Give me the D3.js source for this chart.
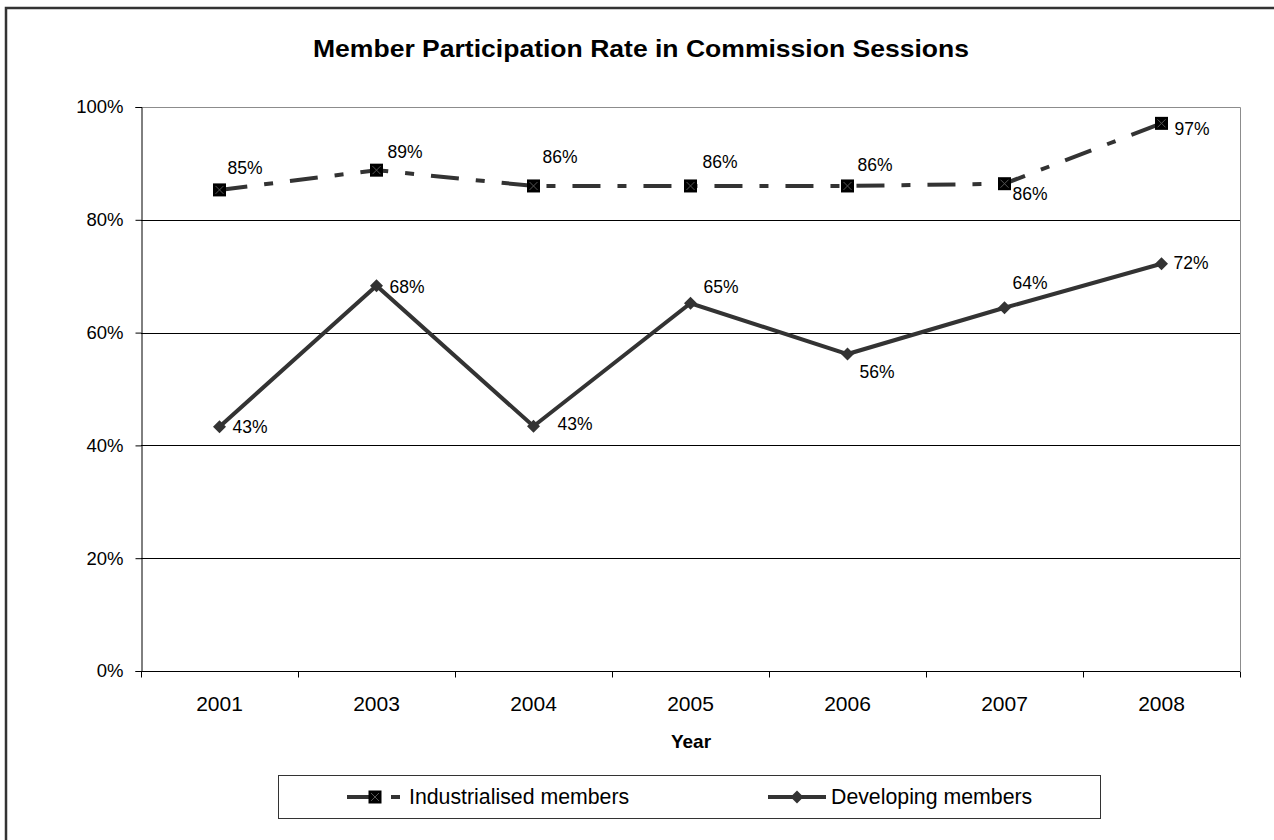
<!DOCTYPE html>
<html>
<head>
<meta charset="utf-8">
<script src="https://cdn.jsdelivr.net/npm/d3@7"></script>
<style>
  html, body { margin: 0; padding: 0; background: #fff; }
  svg { display: block; font-family: "Liberation Sans", Arial, sans-serif; }
</style>
</head>
<body>
<svg id="chart" width="1274" height="840"></svg>
<script>
// ---- data ----
const categories = ["2001", "2003", "2004", "2005", "2006", "2007", "2008"];
const industrialised = [0.853, 0.888, 0.860, 0.860, 0.860, 0.864, 0.971];
const developing = [0.433, 0.683, 0.434, 0.652, 0.562, 0.644, 0.722];
const industrialisedLabels = ["85%", "89%", "86%", "86%", "86%", "86%", "97%"];
const developingLabels = ["43%", "68%", "43%", "65%", "56%", "64%", "72%"];
const yTicks = [0, 0.2, 0.4, 0.6, 0.8, 1.0];
const seriesNames = ["Industrialised members", "Developing members"];
const titleText = "Member Participation Rate in Commission Sessions";
const xTitle = "Year";

(function () {
// ---- layout (label offsets relative to marker: [dx to label start, dy to label centre]) ----
const indOffsets = [[8, -22], [11, -18], [9, -29], [12, -24], [10, -21], [8, 10], [13, 6]];
const devOffsets = [[13, 0], [13, 1], [24, -2], [13, -16], [12, 18], [8, -25], [12, -1]];

const svg = d3.select("#chart");
const pL = 141, pR = 1240, pT = 107, pB = 671;
const ink = "#333";

// outer frame
svg.append("rect").attr("x", 6).attr("y", 8).attr("width", 1290).attr("height", 860)
  .attr("fill", "none").attr("stroke", ink).attr("stroke-width", 2.5);

const x = d3.scaleBand().domain(categories).range([pL, pR]).padding(0);
const y = d3.scaleLinear().domain([0, 1]).range([pB, pT]);

// title
svg.append("text").attr("x", 641).attr("y", 57).attr("text-anchor", "middle")
  .attr("font-weight", "bold").attr("font-size", 24)
  .attr("textLength", 656).attr("lengthAdjust", "spacingAndGlyphs")
  .attr("fill", "#000").text(titleText);

// plot border (grey, top & right)
svg.append("path")
  .attr("d", `M${pL},${pT + 0.5}H${pR + 0.5}V${pB}`)
  .attr("fill", "none").attr("stroke", "#8c8c8c").attr("stroke-width", 1);

// gridlines
svg.append("g").selectAll("line").data(yTicks.filter(t => t > 0 && t < 1)).join("line")
  .attr("x1", pL).attr("x2", pR)
  .attr("y1", d => Math.round(y(d)) + 0.5).attr("y2", d => Math.round(y(d)) + 0.5)
  .attr("stroke", "#000").attr("stroke-width", 1);

// y axis
const yAxis = svg.append("g").attr("transform", `translate(${pL + 0.5},0)`)
  .call(d3.axisLeft(y).tickValues(yTicks).tickFormat(d3.format(".0%")).tickSize(6).tickPadding(12));
yAxis.select(".domain").attr("stroke", "#000");
yAxis.selectAll(".tick line").attr("stroke", "#000");
yAxis.selectAll("text").attr("font-size", 18.5).attr("fill", "#000")
  .attr("font-family", "Liberation Sans, Arial, sans-serif");

// x axis (ticks at band boundaries)
const xAxisG = svg.append("g").attr("transform", `translate(0,${pB + 0.5})`);
xAxisG.append("line").attr("x1", pL).attr("x2", pR).attr("stroke", "#000");
const bounds = categories.map(c => x(c)).concat([x(categories[categories.length - 1]) + x.bandwidth()]);
xAxisG.selectAll("line.tk").data(bounds).join("line").attr("class", "tk")
  .attr("x1", d => Math.round(d) + 0.5).attr("x2", d => Math.round(d) + 0.5)
  .attr("y1", 0).attr("y2", 6).attr("stroke", "#000");
xAxisG.selectAll("text").data(categories).join("text")
  .attr("x", d => x(d) + x.bandwidth() / 2).attr("y", 39)
  .attr("text-anchor", "middle").attr("font-size", 21).attr("fill", "#000").text(d => d);

svg.append("text").attr("x", 691).attr("y", 748).attr("text-anchor", "middle")
  .attr("font-weight", "bold").attr("font-size", 19).attr("fill", "#000").text(xTitle);

const cx = (d, i) => x(categories[i]) + x.bandwidth() / 2;
const line = d3.line().x(cx).y(d => y(d));

const dash = "28,17,9,17";

// series lines
svg.append("path").datum(industrialised).attr("d", line)
  .attr("fill", "none").attr("stroke", ink).attr("stroke-width", 4).attr("stroke-dasharray", dash);
svg.append("path").datum(developing).attr("d", line)
  .attr("fill", "none").attr("stroke", ink).attr("stroke-width", 4).attr("stroke-linejoin", "miter");

function squareMarker(g, px, py) {
  const s = 13;
  g.append("rect").attr("x", px - s / 2).attr("y", py - s / 2).attr("width", s).attr("height", s).attr("fill", "#000");
  g.append("path").attr("d", `M${px - 4},${py - 4}L${px + 4},${py + 4}M${px + 4},${py - 4}L${px - 4},${py + 4}`)
    .attr("stroke", "#555").attr("stroke-width", 1);
}
function diamondMarker(g, px, py) {
  const r = 6.5;
  g.append("path").attr("d", `M${px},${py - r}L${px + r},${py}L${px},${py + r}L${px - r},${py}Z`).attr("fill", ink);
}

const mk = svg.append("g");
industrialised.forEach((v, i) => squareMarker(mk, cx(v, i), y(v)));
developing.forEach((v, i) => diamondMarker(mk, cx(v, i), y(v)));

// data labels
const lab = svg.append("g").attr("font-size", 17.5).attr("fill", "#000");
lab.selectAll("text.ind").data(industrialised).join("text").attr("class", "ind")
  .attr("x", (d, i) => cx(d, i) + indOffsets[i][0])
  .attr("y", (d, i) => y(d) + indOffsets[i][1]).attr("dy", "0.35em")
  .text((d, i) => industrialisedLabels[i]);
lab.selectAll("text.dev").data(developing).join("text").attr("class", "dev")
  .attr("x", (d, i) => cx(d, i) + devOffsets[i][0])
  .attr("y", (d, i) => y(d) + devOffsets[i][1]).attr("dy", "0.35em")
  .text((d, i) => developingLabels[i]);

// legend
const lg = svg.append("g");
lg.append("rect").attr("x", 278.5).attr("y", 775.5).attr("width", 822).attr("height", 43)
  .attr("fill", "#fff").attr("stroke", ink).attr("stroke-width", 1);
const ly = 797;
lg.append("line").attr("x1", 347).attr("x2", 372).attr("y1", ly).attr("y2", ly).attr("stroke", ink).attr("stroke-width", 4);
lg.append("line").attr("x1", 391).attr("x2", 400).attr("y1", ly).attr("y2", ly).attr("stroke", ink).attr("stroke-width", 4);
squareMarker(lg, 375, ly);
lg.append("text").attr("x", 409).attr("y", ly).attr("dy", "0.35em").attr("font-size", 21.3).attr("fill", "#000").text(seriesNames[0]);
lg.append("line").attr("x1", 768).attr("x2", 826).attr("y1", ly).attr("y2", ly).attr("stroke", ink).attr("stroke-width", 4);
diamondMarker(lg, 797, ly);
lg.append("text").attr("x", 831).attr("y", ly).attr("dy", "0.35em").attr("font-size", 21.3).attr("fill", "#000").text(seriesNames[1]);
})();
</script>
</body>
</html>
